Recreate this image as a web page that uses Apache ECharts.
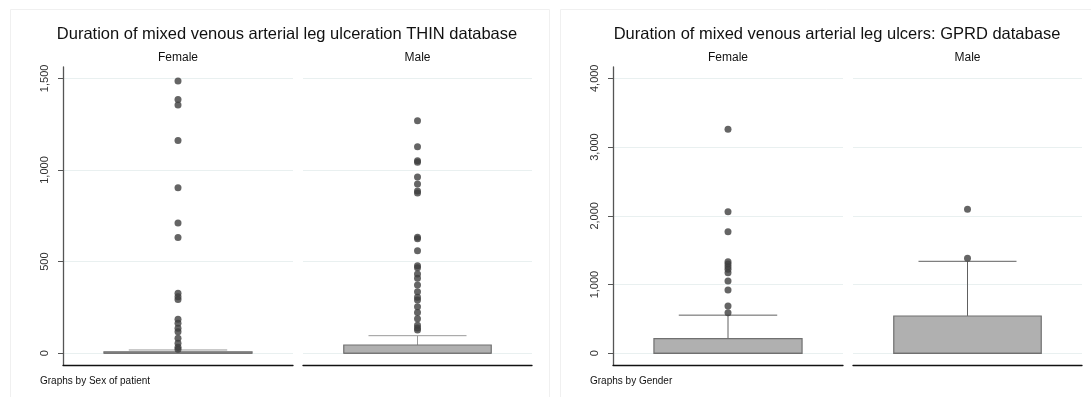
<!DOCTYPE html>
<html>
<head>
<meta charset="utf-8">
<script src="https://cdn.jsdelivr.net/npm/echarts@6/dist/echarts.min.js"></script>
<style>
html,body{margin:0;padding:0;background:#fff;}
#c{width:1091px;height:397px;}
</style>
</head>
<body>
<div id="c"></div>
<script>
// ---- Data ----
const panelLabels = ['Female', 'Male'];
const titleThin = 'Duration of mixed venous arterial leg ulceration THIN database';
const titleGprd = 'Duration of mixed venous arterial leg ulcers: GPRD database';
const noteThin = 'Graphs by Sex of patient';
const noteGprd = 'Graphs by Gender';

const thinTicks = [0, 500, 1000, 1500];
const gprdTicks = [0, 1000, 2000, 3000, 4000];

// [lower whisker, q1, median, q3, upper whisker]
const thinFemaleBox = [0, 0, 0, 8, 18];
const thinMaleBox = [0, 0, 0, 45, 96];
const gprdFemaleBox = [0, 0, 0, 215, 555];
const gprdMaleBox = [0, 0, 0, 543, 1338];

const thinFemaleOut = [1485, 1385, 1354, 1161, 903, 711, 632, 327, 309, 294, 185, 164, 136, 118, 82, 55, 33, 22];
const thinMaleOut = [1269, 1127, 1050, 1042, 962, 923, 885, 875, 633, 625, 560, 478, 467, 433, 409, 373, 336, 305, 291, 254, 222, 189, 153, 138, 127];
const gprdFemaleOut = [3260, 2060, 1769, 1333, 1299, 1260, 1222, 1173, 1052, 921, 688, 591];
const gprdMaleOut = [2095, 1382];

// ---- Chart ----
const FONT = '"Liberation Sans", Arial, Helvetica, sans-serif';
const chart = echarts.init(document.getElementById('c'), null, {renderer: 'canvas'});

const gridTop = 67, gridH = 298;
const grids = [
  {left: 63, top: gridTop, width: 230, height: gridH},
  {left: 303, top: gridTop, width: 229, height: gridH},
  {left: 613, top: gridTop, width: 230, height: gridH},
  {left: 853, top: gridTop, width: 229, height: gridH}
];

function xAx(i, label) {
  return {
    type: 'category', gridIndex: i, data: [label],
    axisLine: {show: true, onZero: false, lineStyle: {color: '#111', width: 1.3}},
    axisTick: {show: false}, axisLabel: {show: false}, splitLine: {show: false}
  };
}
function yAx(i, min, max, ticks, showAxis) {
  return {
    type: 'value', gridIndex: i, min: min, max: max,
    axisLine: {show: showAxis, lineStyle: {color: '#555', width: 1.3}},
    axisTick: {show: showAxis, length: 5, lineStyle: {color: '#555'}, customValues: ticks},
    axisLabel: {show: showAxis, rotate: 90, margin: 13, color: '#333', fontSize: 11, fontFamily: FONT,
      customValues: ticks,
      formatter: v => Number(v).toLocaleString('en-US')},
    splitLine: {show: true, lineStyle: {color: '#e9f0f0', width: 1}}
  };
}

function boxRenderer(whiskerColor, borderColor) {
  return function (params, api) {
    const x = api.value(0);
    const lo = api.value(1), q1 = api.value(2), md = api.value(3), q3 = api.value(4), hi = api.value(5);
    const band = api.size([1, 0])[0];
    const bw = band * 0.644, cw = band * 0.428;
    const pq1 = api.coord([x, q1]);
    const cx = pq1[0];
    const yq1 = pq1[1], yq3 = api.coord([x, q3])[1], ymd = api.coord([x, md])[1];
    const yhi = api.coord([x, hi])[1], ylo = api.coord([x, lo])[1];
    const ws = {stroke: whiskerColor, lineWidth: 1};
    const ch = [];
    ch.push({type: 'line', shape: {x1: cx, y1: yq3, x2: cx, y2: yhi}, style: ws});
    ch.push({type: 'line', shape: {x1: cx - cw / 2, y1: yhi, x2: cx + cw / 2, y2: yhi}, style: ws});
    if (lo < q1) {
      ch.push({type: 'line', shape: {x1: cx, y1: yq1, x2: cx, y2: ylo}, style: ws});
      ch.push({type: 'line', shape: {x1: cx - cw / 2, y1: ylo, x2: cx + cw / 2, y2: ylo}, style: ws});
    }
    ch.push({type: 'rect', shape: {x: cx - bw / 2, y: yq3, width: bw, height: yq1 - yq3},
      style: {fill: '#b0b0b0', stroke: borderColor, lineWidth: 1.2}});
    ch.push({type: 'line', shape: {x1: cx - bw / 2, y1: ymd, x2: cx + bw / 2, y2: ymd},
      style: {stroke: borderColor, lineWidth: 1.2}});
    return {type: 'group', children: ch};
  };
}

function boxSeries(i, box, wc, bc) {
  return {
    type: 'custom', xAxisIndex: i, yAxisIndex: i,
    renderItem: boxRenderer(wc, bc),
    encode: {x: 0, y: [1, 2, 3, 4, 5]},
    data: [[0].concat(box)], silent: true, z: 2
  };
}
function outSeries(i, vals) {
  return {
    type: 'scatter', xAxisIndex: i, yAxisIndex: i,
    symbol: 'circle', symbolSize: 7,
    itemStyle: {color: '#3f3f3f'},
    data: vals.map(v => [0, v]), silent: true, z: 3
  };
}

const thinMin = -64, thinMax = 1562;
const gprdMin = -170, gprdMax = 4164;

function txt(x, y, text, size, align) {
  return {type: 'text', x: x, y: y, silent: true,
    style: {text: text, fontSize: size, fontFamily: FONT, fill: '#111',
      align: align || 'center', verticalAlign: 'middle'}};
}

chart.setOption({
  backgroundColor: '#fff',
  animation: false,
  grid: grids,
  xAxis: [xAx(0, panelLabels[0]), xAx(1, panelLabels[1]), xAx(2, panelLabels[0]), xAx(3, panelLabels[1])],
  yAxis: [
    yAx(0, thinMin, thinMax, thinTicks, true),
    yAx(1, thinMin, thinMax, thinTicks, false),
    yAx(2, gprdMin, gprdMax, gprdTicks, true),
    yAx(3, gprdMin, gprdMax, gprdTicks, false)
  ],
  series: [
    boxSeries(0, thinFemaleBox, '#9a9a9a', '#707070'),
    boxSeries(1, thinMaleBox, '#9a9a9a', '#707070'),
    boxSeries(2, gprdFemaleBox, '#606060', '#707070'),
    boxSeries(3, gprdMaleBox, '#606060', '#707070'),
    outSeries(0, thinFemaleOut),
    outSeries(1, thinMaleOut),
    outSeries(2, gprdFemaleOut),
    outSeries(3, gprdMaleOut)
  ],
  graphic: [
    {type: 'rect', shape: {x: 10.5, y: 9.5, width: 539, height: 400}, silent: true,
      style: {fill: 'none', stroke: '#f0f0f0', lineWidth: 1}},
    {type: 'rect', shape: {x: 560.5, y: 9.5, width: 540, height: 400}, silent: true,
      style: {fill: 'none', stroke: '#f0f0f0', lineWidth: 1}},
    txt(287, 34, titleThin, 16.5),
    txt(837, 34, titleGprd, 16.5),
    txt(178, 58, panelLabels[0], 12),
    txt(417.5, 58, panelLabels[1], 12),
    txt(728, 58, panelLabels[0], 12),
    txt(967.5, 58, panelLabels[1], 12),
    txt(40, 381, noteThin, 10, 'left'),
    txt(590, 381, noteGprd, 10, 'left')
  ]
});
</script>
</body>
</html>
